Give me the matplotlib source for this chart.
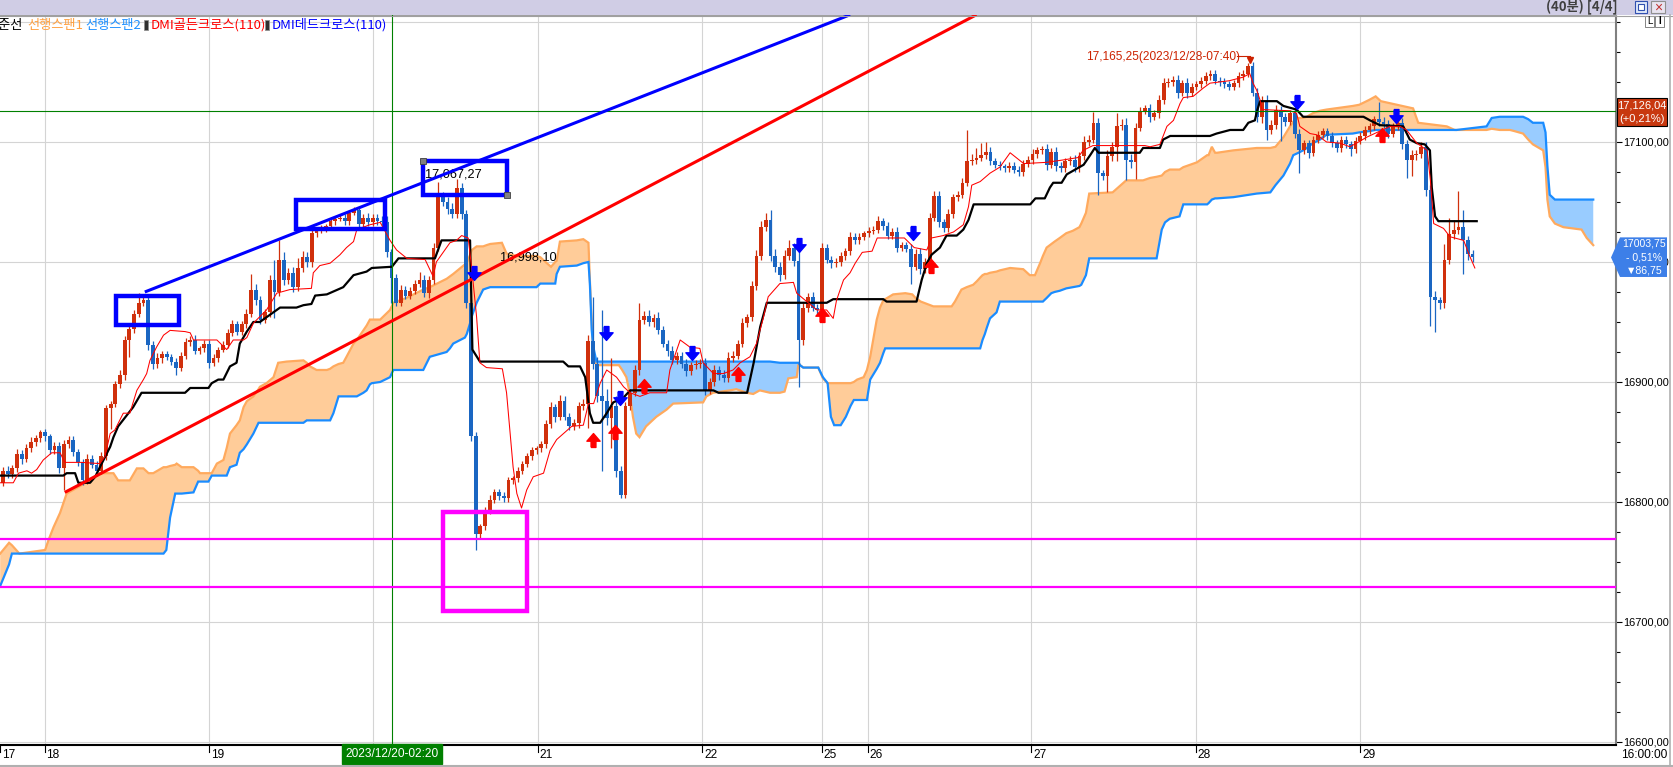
import numpy as np
import matplotlib
matplotlib.use("Agg")
import matplotlib.pyplot as plt
from matplotlib.path import Path
from matplotlib.patches import Rectangle, Polygon
from matplotlib.ticker import MultipleLocator, FixedLocator

NUM = ['Liberation Sans', 'DejaVu Sans']
KOR = ['Noto Sans CJK KR', 'DejaVu Sans']
plt.rcParams['font.family'] = NUM

# ---- 40-minute candles (bar index 0..314) ----
first_open = 16816
closes = [
    16826, 16823, 16828, 16840, 16836, 16845, 16850, 16853, 16858, 16855,
    16843, 16847, 16828, 16848, 16852, 16842, 16833, 16818, 16836, 16831,
    16826, 16838, 16878, 16882, 16898, 16906, 16935, 16944, 16957, 16966,
    16968, 16931, 16915, 16920, 16923, 16921, 16917, 16912, 16922, 16933,
    16935, 16926, 16928, 16932, 16916, 16920, 16927, 16931, 16941, 16948,
    16942, 16948, 16957, 16977, 16968, 16952, 16958, 16985, 16975, 17002,
    16985, 16991, 16979, 16995, 17004, 17000, 17024, 17026, 17028, 17030,
    17034, 17036, 17037, 17034, 17041, 17043, 17032, 17037, 17033, 17037,
    17034, 17033, 17008, 16987, 16966, 16977, 16972, 16976, 16982, 16985,
    16974, 16985, 17012, 17055, 17050, 17044, 17040, 17062, 17040, 16966,
    16855, 16773, 16780, 16793, 16802, 16808, 16805, 16803, 16818, 16820,
    16826, 16832, 16838, 16843, 16845, 16848, 16865, 16879, 16871, 16884,
    16871, 16863, 16866, 16880, 16882, 16934, 16915, 16888, 16884, 16870,
    16880, 16826, 16806, 16880, 16891, 16910, 16952, 16955, 16950, 16953,
    16943, 16932, 16926, 16918, 16922, 16915, 16909, 16914, 16915, 16916,
    16893, 16900, 16910, 16906, 16903, 16920, 16922, 16932, 16949, 16954,
    16980, 17005, 17029, 17035, 17005, 16996, 16989, 17005, 17012, 17001,
    16935, 16962, 16971, 16962, 16960, 17012, 17002, 16999, 17000, 17005,
    17009, 17021, 17018, 17021, 17024, 17026, 17027, 17034, 17030, 17022,
    17025, 17012, 17014, 17011, 16996, 17007, 16994, 17000, 17037, 17055,
    17033, 17028, 17040, 17054, 17056, 17066, 17084, 17085, 17087, 17089,
    17092, 17084, 17081, 17080, 17078, 17080, 17077, 17075, 17082, 17085,
    17090, 17093, 17094, 17081, 17092, 17080, 17078, 17084, 17085, 17079,
    17088, 17100, 17102, 17116, 17074, 17072, 17088, 17096, 17113, 17114,
    17085, 17083, 17112, 17126, 17128, 17121, 17124, 17135, 17149, 17150,
    17152, 17141, 17149, 17141, 17146, 17148, 17151, 17155, 17157, 17151,
    17150, 17148, 17146, 17149, 17155, 17157, 17163, 17141, 17121, 17134,
    17110, 17114, 17127, 17121, 17117, 17124, 17107, 17093, 17099, 17091,
    17102, 17106, 17109, 17105, 17099, 17095, 17102, 17098, 17094, 17101,
    17105, 17110, 17113, 17119, 17117, 17115, 17107, 17113, 17116, 17098,
    17085, 17089, 17090, 17096, 17060, 16971, 16968, 16966, 17002, 17023,
    17027, 17029, 17018, 17007, 17004,
]
wick_up = [
    3, 4, 3, 4, 3, 3, 4, 3, 2, 3,   2, 3, 3, 4, 3, 3, 2, 3, 4, 3,
    3, 4, 3, 2, 3, 4, 3, 3, 3, 8,   4, 3, 3, 4, 3, 3, 2, 3, 3, 4,
    3, 4, 2, 3, 3, 3, 2, 3, 3, 4,   3, 3, 4, 13, 5, 4, 3, 4, 17, 16,
    6, 4, 5, 8, 5, 4, 4, 3, 3, 2,   3, 2, 3, 3, 2, 3, 3, 3, 4, 3,
    3, 4, 5, 3, 3, 4, 3, 3, 3, 7,   4, 3, 4, 12, 3, 4, 5, 7, 4, 3,
    3, 3, 2, 3, 4, 3, 3, 3, 3, 2,   3, 2, 3, 3, 2, 3, 3, 4, 3, 5,
    4, 3, 3, 3, 4, 5, 37, 6, 72, 10, 40, 8, 4, 3, 3, 4, 14, 4, 5, 4,
    5, 4, 3, 4, 3, 3, 4, 3, 3, 3,   4, 3, 4, 3, 4, 5, 4, 3, 4, 3,
    4, 5, 5, 6, 8, 6, 4, 5, 6, 4,   15, 4, 3, 4, 3, 4, 3, 3, 3, 3,
    3, 4, 3, 3, 2, 3, 3, 4, 3, 3,   3, 4, 3, 3, 4, 4, 5, 3, 4, 4,
    4, 3, 4, 3, 3, 4, 26, 5, 8, 10, 8, 4, 3, 3, 2, 3, 3, 3, 3, 3,
    4, 3, 3, 4, 3, 4, 3, 3, 3, 4,   4, 5, 4, 9, 4, 3, 5, 4, 11, 5,
    6, 5, 4, 3, 3, 4, 3, 4, 4, 3,   3, 4, 3, 4, 3, 3, 3, 3, 3, 3,
    3, 3, 3, 3, 3, 3, 3, 4, 4, 4,   5, 4, 4, 3, 3, 3, 4, 4, 3, 3,
    3, 3, 3, 3, 3, 3, 3, 3, 3, 3,   3, 3, 3, 3, 14, 4, 3, 3, 6, 4,
    4, 4, 3, 4, 4, 4, 5, 3, 13, 14, 8, 30, 14, 4, 3,
]
wick_dn = [
    3, 3, 3, 3, 4, 3, 3, 3, 3, 4,   3, 3, 4, 18, 3, 4, 3, 4, 3, 3,
    4, 3, 3, 17, 3, 3, 4, 14, 3, 3, 3, 4, 4, 3, 4, 3, 3, 6, 3, 3,
    3, 3, 3, 3, 4, 3, 3, 2, 3, 3,   3, 3, 3, 3, 4, 4, 3, 4, 22, 3,
    4, 3, 4, 3, 3, 4, 4, 3, 2, 3,   3, 3, 2, 3, 3, 2, 3, 3, 3, 3,
    3, 3, 4, 21, 3, 3, 3, 3, 3, 3,  3, 4, 3, 3, 3, 4, 3, 3, 4, 4,
    4, 13, 3, 3, 3, 3, 3, 3, 3, 3,  3, 3, 3, 3, 3, 3, 3, 3, 4, 3,
    3, 3, 3, 4, 3, 20, 4, 5, 58, 6, 25, 5, 3, 3, 3, 3, 4, 4, 3, 4,
    3, 3, 4, 3, 3, 3, 4, 3, 3, 3,   4, 3, 3, 4, 3, 3, 3, 3, 3, 3,
    3, 3, 3, 3, 4, 4, 5, 3, 3, 4,   39, 4, 4, 3, 3, 4, 3, 4, 3, 3,
    3, 3, 3, 3, 3, 3, 3, 3, 3, 3,   3, 4, 3, 3, 14, 3, 4, 3, 3, 3,
    4, 3, 3, 3, 3, 3, 3, 3, 3, 3,   3, 3, 3, 3, 3, 3, 3, 3, 3, 3,
    3, 3, 3, 4, 3, 4, 3, 3, 3, 4,   4, 3, 3, 3, 18, 4, 14, 4, 12, 3,
    17, 5, 14, 3, 3, 4, 3, 4, 3, 3, 3, 4, 3, 4, 3, 3, 3, 3, 3, 3,
    3, 3, 3, 3, 3, 3, 3, 3, 4, 5,   8, 3, 3, 20, 4, 3, 4, 19, 3, 4,
    3, 3, 3, 3, 3, 3, 3, 3, 6, 3,   3, 3, 3, 3, 4, 3, 4, 3, 3, 4,
    15, 13, 4, 3, 5, 24, 26, 5, 4, 4, 4, 4, 28, 5, 4,
]

# ---- Ichimoku cloud: leading span 1 / leading span 2 (shifted 26 bars ahead) ----
cloud_x = [
    -0.6, 1.3, 1.9, 3.5, 9.0, 9.7, 10.8, 12.2, 13.6, 18.6, 20.7, 23.6, 24.6, 27.1,
    28.6, 30.0, 31.1, 32.1, 34.3, 34.9, 35.7, 36.8, 37.1, 38.2, 40.7, 41.7, 42.1,
    43.9, 44.6, 45.7, 47.1, 47.8, 48.5, 49.9, 50.6, 51.4, 52.1, 53.5, 54.6, 54.9,
    56.3, 57.8, 58.8, 60.6, 64.2, 64.9, 65.6, 67.0, 69.2, 69.9, 70.6, 71.7, 72.7,
    73.4, 74.9, 75.6, 77.0, 77.7, 78.4, 78.8, 80.6,
    82.7, 83.4, 86.2, 89.8, 91.2, 94.8, 95.5, 96.2, 98.7, 99.1, 99.8, 100.2, 101.2,
    102.6, 103.3, 104.1, 106.6, 107.6, 109.8, 114.0, 114.8, 116.2, 117.1, 118.0,
    118.3, 119.0, 122.6, 124.0, 125.1, 125.4, 125.8, 126.1, 126.8, 131.6, 132.3,
    133.2, 133.9, 134.6, 135.3, 136.0, 137.4, 139.6, 141.8, 143.2, 149.6, 150.3,
    151.7, 155.3, 156.7, 158.9, 160.3, 161.7, 163.9, 166.0,
    167.0, 167.8, 169.6, 170.0, 170.3, 171.0, 174.2, 175.2, 176.2, 176.9, 177.6,
    179.0, 180.1, 181.1, 181.8, 182.5, 183.9, 184.6, 185.3, 186.7, 187.4, 188.1,
    188.5, 190.2, 192.8, 194.3, 195.0, 196.1, 198.8, 202.7, 203.4, 204.8, 205.9,
    207.3, 208.1, 208.8, 209.3, 209.8, 210.2, 210.9, 212.3, 213.0, 215.2, 218.0,
    219.4, 220.5, 221.6, 222.2, 223.0, 224.0, 224.7, 225.8, 227.2, 228.6, 230.0,
    230.4, 231.4, 232.1, 237.1, 240.0, 243.6, 245.1, 246.5, 247.6, 248.3, 249.3,
    251.4,
    252.2, 255.1, 257.3, 257.6, 258.3, 259.0, 259.4, 262.9, 267.9, 270.8, 271.9,
    273.6, 275.0, 275.7, 276.8, 277.8, 278.6, 279.9, 281.4, 282.8, 288.4, 289.8,
    291.9, 293.3, 294.4, 301.3, 302.4, 308.5, 310.2, 310.6, 312.8, 317.0, 318.1,
    319.8, 322.0, 323.0, 324.8, 325.9, 326.9, 329.1, 329.6, 330.0, 330.5, 331.6,
    333.4, 337.3, 338.4, 339.8,
]
span1 = [
    16757, 16766, 16764, 16757, 16760, 16768, 16779, 16791, 16807, 16818, 16824,
    16824, 16818, 16818, 16828, 16828, 16824, 16824, 16829, 16829, 16830, 16831,
    16832, 16829, 16829, 16826, 16824, 16824, 16824, 16832, 16835, 16845, 16857,
    16864, 16868, 16879, 16884, 16888, 16894, 16896, 16899, 16904, 16916, 16917,
    16918, 16916, 16913, 16910, 16910, 16911, 16913, 16915, 16916, 16921, 16932,
    16935, 16943, 16947, 16952, 16952, 16952,
    16960, 16966, 16970, 16977, 16979, 16986, 16988, 16990, 16998, 16999, 17006,
    17010, 17013, 17013, 17014, 17015, 17016, 17007, 17005, 17005, 17004, 16999,
    16996, 17000, 17001, 17017, 17018, 17019, 17016, 16985, 16950, 16920, 16914,
    16914, 16910, 16904, 16891, 16871, 16857, 16854, 16863, 16871, 16877, 16882,
    16883, 16888, 16891, 16893, 16894, 16891, 16890, 16893, 16891, 16891,
    16892, 16903, 16904, 16916, 16914, 16912, 16912, 16903, 16899, 16899, 16899,
    16899, 16899, 16899, 16900, 16902, 16904, 16910, 16921, 16952, 16962, 16968,
    16969, 16973, 16974, 16973, 16970, 16967, 16963, 16963, 16967, 16977, 16979,
    16981, 16984, 16987, 16989, 16990, 16990, 16991, 16992, 16993, 16995, 16994,
    16989, 16989, 16999, 17005, 17012, 17015, 17017, 17020, 17024, 17026, 17029,
    17032, 17041, 17057, 17058, 17068, 17068, 17070, 17071, 17072, 17075, 17077,
    17077,
    17079, 17083, 17089, 17089, 17096, 17091, 17091, 17093, 17095, 17095, 17096,
    17104, 17113, 17117, 17120, 17120, 17121, 17124, 17126, 17127, 17130, 17131,
    17135, 17138, 17134, 17128, 17116, 17113, 17110, 17110, 17110, 17110, 17111,
    17110, 17110, 17109, 17107, 17102, 17098, 17093, 17079, 17052, 17038, 17032,
    17029, 17027, 17020, 17014,
]
span2 = [
    16730, 16748, 16757, 16757, 16757, 16757, 16757, 16757, 16757, 16757, 16757,
    16757, 16757, 16757, 16757, 16757, 16757, 16757, 16757, 16760, 16787, 16807,
    16807, 16807, 16808, 16817, 16817, 16817, 16822, 16822, 16822, 16822, 16829,
    16831, 16841, 16844, 16848, 16857, 16866, 16866, 16866, 16866, 16866, 16866,
    16866, 16868, 16868, 16868, 16868, 16868, 16874, 16888, 16888, 16888, 16888,
    16888, 16891, 16893, 16898, 16899, 16900,
    16904, 16910, 16910, 16910, 16921, 16925, 16928, 16932, 16937, 16940, 16949,
    16955, 16966, 16977, 16978, 16979, 16979, 16979, 16979, 16979, 16982, 16982,
    16982, 16982, 16990, 16996, 16997, 16999, 17000, 16982, 16943, 16930, 16917,
    16917, 16917, 16917, 16917, 16917, 16917, 16917, 16917, 16917, 16917, 16917,
    16917, 16917, 16917, 16917, 16917, 16917, 16917, 16917, 16917, 16916,
    16916, 16916, 16916, 16916, 16914, 16912, 16912, 16904, 16899, 16871, 16864,
    16864, 16871, 16880, 16885, 16885, 16885, 16885, 16902, 16911, 16916, 16924,
    16928, 16928, 16928, 16928, 16928, 16928, 16928, 16928, 16928, 16928, 16928,
    16928, 16928, 16928, 16935, 16940, 16945, 16953, 16958, 16967, 16967, 16967,
    16967, 16967, 16967, 16967, 16970, 16974, 16975, 16976, 16978, 16979, 16980,
    16981, 16989, 17003, 17003, 17003, 17003, 17003, 17003, 17027, 17033, 17036,
    17038,
    17048, 17048, 17048, 17049, 17052, 17053, 17053, 17054, 17057, 17058, 17064,
    17072, 17082, 17089, 17091, 17093, 17095, 17099, 17102, 17106, 17107, 17108,
    17109, 17110, 17110, 17110, 17110, 17110, 17110, 17110, 17111, 17113, 17120,
    17121, 17121, 17121, 17121, 17119, 17116, 17116, 17108, 17080, 17056, 17052,
    17052, 17052, 17052, 17052,
]

# ---- base line (black) ----
kijun_x = [
    -0.6, 12.9, 13.6, 15.4, 16.1, 18.6, 19.7, 20.7, 22.9, 23.6, 24.6, 26.8, 27.8,
    29.6, 38.9, 40.0, 43.9, 44.6, 46.0, 47.1, 48.5, 49.9, 50.6, 52.1, 53.5, 54.9,
    55.6, 59.2, 62.7, 64.2, 65.9, 66.7, 69.2, 72.7, 74.9, 77.7, 78.8, 83.1, 84.5,
    92.3, 93.7, 99.8, 100.3, 101.9, 119.7, 120.8, 123.3, 124.4, 125.4, 126.1,
    127.6, 129.0, 130.4, 132.6, 134.0, 151.8, 152.9, 159.0, 160.4, 161.8, 163.2,
    176.0, 177.4, 188.1, 188.8, 195.2, 196.3, 197.4, 198.4, 200.2, 201.6, 203.8,
    205.2, 206.3, 207.4, 219.5, 220.6, 222.6, 223.7, 224.4, 226.2, 227.3, 229.1,
    230.9, 232.3, 233.3, 234.1, 242.9, 243.6, 247.2, 247.9, 249.4, 257.9, 259.3,
    262.2, 265.0, 266.1, 267.5, 267.9, 268.6, 272.2, 273.6, 276.4, 277.8, 290.7,
    292.1, 294.2, 299.2, 300.6, 302.1, 303.8, 304.9, 305.3, 306.0, 306.7, 314.9,
]
kijun = [
    16822, 16822, 16824, 16824, 16816, 16816, 16821, 16829, 16846, 16854, 16863,
    16874, 16879, 16891, 16891, 16895, 16895, 16899, 16902, 16902, 16913, 16916,
    16932, 16942, 16950, 16950, 16952, 16962, 16962, 16964, 16965, 16972, 16973,
    16979, 16989, 16992, 16995, 16996, 17003, 17003, 17018, 17018, 16927, 16917,
    16917, 16913, 16913, 16904, 16874, 16866, 16866, 16874, 16883, 16887, 16893,
    16893, 16891, 16891, 16916, 16946, 16966, 16966, 16969, 16969, 16967, 16967,
    16985, 16999, 17006, 17012, 17022, 17022, 17027, 17035, 17048, 17048, 17053,
    17053, 17062, 17066, 17066, 17073, 17077, 17081, 17089, 17095, 17091, 17091,
    17095, 17095, 17102, 17105, 17105, 17107, 17110, 17110, 17116, 17118, 17125,
    17134, 17134, 17130, 17127, 17121, 17121, 17118, 17114, 17113, 17102, 17099,
    17098, 17093, 17062, 17038, 17034, 17034,
]

# ---- conversion line (thin red) ----
tenkan_x = [
    -0.6, 2.2, 3.3, 5.1, 6.1, 7.2, 8.6, 10.4, 12.2, 13.2, 16.8, 20.7, 21.8, 22.9,
    23.9, 25.7, 27.1, 28.6, 30.0, 30.7, 31.4, 32.8, 34.3, 35.7, 38.9, 40.0, 40.7,
    45.7, 47.8, 49.2, 51.4, 52.1, 53.5, 56.3, 58.5, 61.3, 65.9, 66.3, 67.7, 69.9,
    72.0, 73.4, 74.9, 75.6, 78.4, 80.6, 82.7, 84.1, 86.3, 90.2, 91.9, 92.6, 95.5,
    96.9, 98.0, 99.4, 100.2, 101.2, 101.9, 103.3, 106.7, 107.6, 109.0, 109.8,
    110.8, 111.9, 113.3, 115.5, 116.9, 118.3, 121.5, 124.0, 125.1, 126.2, 127.6,
    129.0, 131.1, 132.6, 134.0, 136.1, 138.2, 141.8, 142.5, 144.7, 146.8, 148.9,
    149.6, 151.8, 153.9, 156.0, 157.5, 159.6, 161.0, 162.5, 163.5, 166.0, 168.9,
    169.6, 173.9, 176.0, 177.4, 178.1, 179.6, 181.0, 182.1, 183.6, 185.7, 186.8,
    192.6, 194.7, 197.4, 198.4, 200.9, 203.1, 205.2, 206.3, 207.0, 208.8, 210.9,
    213.0, 215.2, 218.1, 222.9, 226.5, 229.7, 230.8, 232.9, 244.0, 245.1, 247.2,
    248.7, 250.1, 251.5, 252.2, 254.3, 256.5, 257.9, 262.0, 265.0, 266.4, 267.1,
    267.9, 268.6, 269.0, 275.0, 276.4, 277.1, 279.3, 280.7, 282.8, 285.7, 287.8,
    289.2, 291.4, 293.6, 296.4, 298.5, 299.9, 302.1, 304.3, 305.0, 305.7, 307.8,
    309.2, 312.1, 313.5, 314.5,
]
tenkan = [
    16816, 16816, 16824, 16826, 16824, 16827, 16835, 16841, 16841, 16833, 16833,
    16832, 16838, 16857, 16860, 16874, 16874, 16893, 16902, 16907, 16918, 16929,
    16939, 16943, 16942, 16941, 16935, 16935, 16927, 16935, 16935, 16937, 16949,
    16960, 16974, 16977, 16978, 16991, 16997, 16999, 17006, 17012, 17017, 17027,
    17031, 17033, 17018, 17010, 17003, 17002, 16988, 17000, 17016, 17018, 17022,
    17020, 16993, 16954, 16916, 16912, 16911, 16891, 16829, 16807, 16795, 16810,
    16821, 16824, 16843, 16852, 16863, 16864, 16882, 16882, 16899, 16910, 16904,
    16896, 16891, 16888, 16891, 16891, 16910, 16935, 16929, 16928, 16916, 16907,
    16907, 16910, 16916, 16921, 16932, 16954, 16971, 16982, 16983, 16974, 16960,
    16960, 16953, 16968, 16985, 16991, 16999, 17008, 17009, 17020, 17020, 17012,
    17010, 17020, 17022, 17025, 17031, 17046, 17064, 17067, 17074, 17079, 17091,
    17082, 17083, 17085, 17087, 17093, 17097, 17097, 17096, 17098, 17113, 17118,
    17132, 17137, 17138, 17145, 17149, 17151, 17154, 17157, 17149, 17143, 17135,
    17127, 17126, 17124, 17113, 17107, 17106, 17100, 17099, 17096, 17099, 17104,
    17108, 17113, 17113, 17110, 17099, 17093, 17068, 17032, 17028, 17021, 17018,
    17004, 16995,
]

# ---- signals, drawings, labels ----
sell_x = [100.6, 128.8, 131.8, 147.2, 170.1, 194.4, 276.5, 297.6]
sell_y = [16991, 16941, 16887, 16924, 17014, 17024, 17133, 17122]
buy_x = [126.1, 130.8, 137.0, 157.1, 175.0, 198.3, 294.7]
buy_y = [16852, 16858, 16897, 16907, 16956, 16997, 17106]

blue_boxes = [(24.1, 37.6, 16947.5, 16972.0),
              (62.6, 81.6, 17027.5, 17052.0),
              (89.7, 107.7, 17056.0, 17084.0)]
pink_box = (94.0, 112.0, 16709.0, 16792.0)
pink_levels = [16769, 16729]
blue_trend = ([30.3, 181.0], [16975, 17206])
red_trend = ([13.2, 208.0], [16808, 17206])

last_price = 17126.04
close_price = 17003.75
cross_bar = 83.1

day_pos = [-0.6, 8.9, 44.0, 79.1, 114.3, 149.4, 175.0, 184.8, 219.7, 254.9, 290.0]
day_labels = ['17', '18', '19', '', '21', '22', '25', '26', '27', '28', '29']
price_ticks = [16600, 16700, 16800, 16900, 17000, 17100]

RED = '#d0300c'
BLUE = '#1a66c2'
FS = 8.6

W, H = 1674, 767
AXW = 1616.0
fig = plt.figure(figsize=(W / 100, H / 100), dpi=100)
fig.patch.set_facecolor('white')
ax = fig.add_axes([0, 22 / H, AXW / W, 730 / H])
ax.set_xlim(-0.641, 344.66)
ax.set_ylim(16597.5, 17205.8)

# grid
for v in price_ticks + [17200]:
    ax.axhline(v, color='#d4d4d4', lw=0.8, zorder=0)
for d in day_pos[1:]:
    ax.axvline(d, color='#d4d4d4', lw=0.8, zorder=0)

# cloud
cx = np.array(cloud_x)
s1 = np.array(span1, float)
s2 = np.array(span2, float)
ax.fill_between(cx, s1, s2, where=s1 >= s2, interpolate=True, color='#ffcc99', lw=0, zorder=1)
ax.fill_between(cx, s1, s2, where=s2 > s1, interpolate=True, color='#99ccff', lw=0, zorder=1)
ax.plot(cx, s1, color='#ffaa5e', lw=1.6, zorder=2, solid_joinstyle='miter')
ax.plot(cx, s2, color='#1a8cff', lw=1.6, zorder=2, solid_joinstyle='miter')

# magenta levels
for lv in pink_levels:
    ax.axhline(lv, color='#ff00ff', lw=1.6, zorder=5)

# candles
c = np.array(closes, float)
o = np.concatenate([[first_open], c[:-1]])
idx = np.arange(len(c))
hi = np.maximum(o, c) + np.array(wick_up)
lo = np.minimum(o, c) - np.array(wick_dn)
cols = np.where(c >= o, RED, BLUE)
ax.vlines(idx, lo, hi, colors=cols, lw=0.9, zorder=3)
ax.bar(idx, np.maximum(np.abs(c - o), 1.0), bottom=np.minimum(o, c), width=0.8,
       color=cols, lw=0, zorder=3)

# kijun / tenkan
ax.plot(kijun_x, kijun, color='black', lw=1.6, zorder=4)
ax.plot(tenkan_x, tenkan, color='#ff0000', lw=0.75, zorder=4)

# crosshair and last price line
ax.axvline(cross_bar, color='#008000', lw=0.8, zorder=4)
ax.axhline(last_price, color='#008000', lw=0.8, zorder=4)

# trend lines and boxes
ax.plot(*blue_trend, color='#0000ff', lw=2.2, zorder=6, solid_capstyle='butt')
ax.plot(*red_trend, color='#ff0000', lw=2.2, zorder=6, solid_capstyle='butt')
for x0, x1, y0, y1 in blue_boxes:
    ax.add_patch(Rectangle((x0, y0), x1 - x0, y1 - y0, fill=False, ec='#0000ff', lw=3.2, zorder=6))
x0, x1, y0, y1 = blue_boxes[2]
ax.plot([x0, x1], [y1, y0], ls='none', marker='s', ms=5, mfc='#808080', mec='#404040',
        mew=0.6, zorder=7)
x0, x1, y0, y1 = pink_box
ax.add_patch(Rectangle((x0, y0), x1 - x0, y1 - y0, fill=False, ec='#ff00ff', lw=3.2, zorder=6))

# signal arrows
down_arrow = Path([(-0.35, 1), (0.35, 1), (0.35, 0.1), (0.95, 0.1), (0, -1),
                   (-0.95, 0.1), (-0.35, 0.1), (-0.35, 1)])
up_arrow = Path([(x, -y) for x, y in down_arrow.vertices])
ax.plot(sell_x, sell_y, ls='none', marker=down_arrow, ms=10, color='#0000ff', zorder=7)
ax.plot(buy_x, buy_y, ls='none', marker=up_arrow, ms=10, color='#ff0000', zorder=7)

# value labels on chart
ax.text(90.2, 17073, '17,067,27', fontsize=9.2, ha='left', va='center', color='black', zorder=5)
ax.text(106.2, 17004, '16,998,10', fontsize=9.2, ha='left', va='center', color='black', zorder=5)
ax.text(231.4, 17171, '17,165,25(2023/12/28-07:40)', fontsize=FS, ha='left', va='center',
        color='#cc2200', zorder=7)
ax.plot([263.6, 266.4], [17172, 17172], color='#cc2200', lw=0.8, zorder=7)
ax.plot([266.4], [17168], marker='v', ms=4, color='#cc2200', zorder=7)

# axes frame
ax.spines['left'].set_visible(False)
ax.spines['top'].set_color('#a0a0a0')
ax.spines['right'].set_color('#808080')
ax.spines['right'].set_linewidth(1.5)
ax.spines['bottom'].set_color('black')
ax.spines['bottom'].set_linewidth(1.5)
ax.set_xticks([])
ax.yaxis.tick_right()
ax.yaxis.set_major_locator(FixedLocator(price_ticks))
ax.yaxis.set_minor_locator(MultipleLocator(25))
ax.set_yticklabels([f'{v},00' for v in price_ticks])
ax.tick_params(axis='y', which='major', length=4, width=0.8, pad=1.2, labelsize=7.9,
               direction='out', colors='black')
ax.tick_params(axis='y', which='minor', length=3, width=0.8, direction='out')

# x-axis day labels
xt = ax.get_xaxis_transform()
for d, lab in zip(day_pos, day_labels):
    ax.plot([d, d], [0, -0.01], color='black', lw=0.8, transform=xt, clip_on=False)
    if lab:
        ax.text(d + 0.4, -0.006, lab, transform=xt, ha='left', va='top', fontsize=FS,
                clip_on=False)
ax.text(cross_bar, -0.004, '2023/12/20-02:20', transform=xt, ha='center', va='top',
        fontsize=FS, color='white', clip_on=False, zorder=10,
        bbox=dict(boxstyle='square,pad=0.3', fc='#008000', ec='#008000'))
ax.text(1667 / AXW, -0.006, '16:00:00', transform=ax.transAxes, ha='right', va='top',
        fontsize=FS, clip_on=False)

# right-side price boxes
yt = ax.get_yaxis_transform()
ax.add_patch(Rectangle((1617 / AXW, 17113.3), 50 / AXW, 23.4, transform=yt, fc='#c8380f',
                       ec='black', lw=0.8, clip_on=False, zorder=20))
ax.text(1642 / AXW, 17130.5, '17,126,04', transform=yt, ha='center', va='center',
        color='white', fontsize=8.0, clip_on=False, zorder=21)
ax.text(1642 / AXW, 17119.5, '(+0,21%)', transform=yt, ha='center', va='center',
        color='white', fontsize=8.0, clip_on=False, zorder=21)
ax.add_patch(Polygon([(1611 / AXW, close_price), (1620 / AXW, 17020.5), (1667 / AXW, 17020.5),
                      (1667 / AXW, 16987.5), (1620 / AXW, 16987.5)], closed=True,
                     transform=yt, fc='#3d7fe8', ec='none', clip_on=False, zorder=20))
for yy, t in [(17015, '17003,75'), (17004, '- 0,51%'), (16993, '\u25bc86,75')]:
    ax.text(1644 / AXW, yy, t, transform=yt, ha='center', va='center', color='white',
            fontsize=7.6, clip_on=False, zorder=21, family=NUM)

# overlay in pixel space for the window chrome
ov = fig.add_axes([0, 0, 1, 1], zorder=10)
ov.set_xlim(0, W)
ov.set_ylim(H, 0)
ov.axis('off')
ov.patch.set_alpha(0)
ov.add_patch(Rectangle((0, 0), W, 15, fc='#d0cde5', ec='none'))
ov.plot([0, W], [15.5, 15.5], color='#a0a0a0', lw=0.8)
ov.text(1546, 7.5, '(40분) [4/4]', family=KOR, fontsize=9.5, color='#404040',
        ha='left', va='center', weight='bold')
ov.add_patch(Rectangle((1635, 1), 12, 12, fc='#dfe8f8', ec='#3050b0', lw=0.8))
ov.add_patch(Rectangle((1638, 4), 6, 6, fc='white', ec='#3050b0', lw=0.8))
ov.add_patch(Rectangle((1651, 1), 14, 12, fc='#e8e4f0', ec='#909090', lw=0.8))
ov.text(1658, 7.5, '×', color='#c03030', fontsize=10, ha='center', va='center', family=NUM)
ov.add_patch(Rectangle((1645, 16), 9, 11, fc='white', ec='#707070', lw=0.6))
ov.add_patch(Rectangle((1655, 16), 9, 11, fc='white', ec='#707070', lw=0.6))
ov.text(1649.5, 21.5, 'L', fontsize=7, ha='center', va='center', family=NUM)
ov.text(1659.5, 21.5, 'I', fontsize=7, ha='center', va='center', family=NUM, weight='bold')
ov.plot([1670, 1670], [15, H], color='#b0b0b0', lw=1.2)
ov.plot([0, W], [765.5, 765.5], color='#b0b0b0', lw=1.5)

# indicator legend (first name is partly scrolled off the left edge, as in the source)
legend = [(-14, '기준선', 'black'), (27, '선행스팬1', '#ffa040'), (85, '선행스팬2', '#1e90ff'),
          (151, 'DMI골든크로스(110)', '#ff0000'), (272, 'DMI데드크로스(110)', '#0000ff')]
for x, t, col in legend:
    ov.text(x, 25, t, family=KOR, fontsize=9.5, color=col, ha='left', va='center')
for x in [144, 265]:
    ov.add_patch(Rectangle((x, 20), 4, 10, fc='#303030', ec='#909090', lw=0.6))

fig.savefig('out.png', dpi=100)
